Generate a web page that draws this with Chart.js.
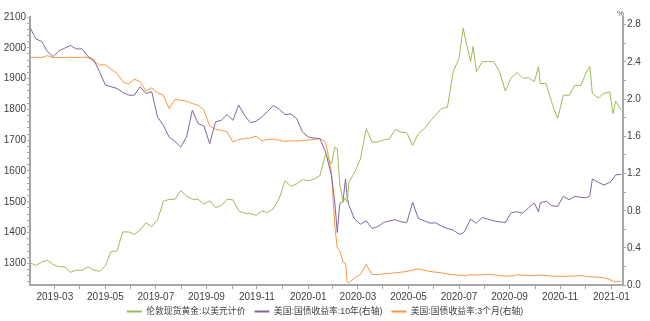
<!DOCTYPE html>
<html>
<head>
<meta charset="utf-8">
<script src="https://cdn.jsdelivr.net/npm/chart.js@4.4.0/dist/chart.umd.min.js"></script>
<style>
  html, body { margin: 0; padding: 0; background: #fff; }
  #wrap { width: 650px; height: 321px; }
</style>
</head>
<body>
<div id="wrap"><canvas id="chart"></canvas></div>
<script>
// weekly samples (plus a few extra days where the lines move fast)
const dates = [
  '2019-03-01','2019-03-08','2019-03-15','2019-03-22','2019-03-29',
  '2019-04-05','2019-04-12','2019-04-19','2019-04-26',
  '2019-05-03','2019-05-10','2019-05-17','2019-05-24','2019-05-31',
  '2019-06-07','2019-06-14','2019-06-21','2019-06-28',
  '2019-07-05','2019-07-12','2019-07-19','2019-07-26',
  '2019-08-02','2019-08-09','2019-08-16','2019-08-23','2019-08-30',
  '2019-09-06','2019-09-13','2019-09-20','2019-09-27',
  '2019-10-04','2019-10-11','2019-10-18','2019-10-25',
  '2019-11-01','2019-11-08','2019-11-15','2019-11-22','2019-11-29',
  '2019-12-06','2019-12-13','2019-12-20','2019-12-27',
  '2020-01-03','2020-01-10','2020-01-17','2020-01-24','2020-01-31',
  '2020-02-07','2020-02-14','2020-02-21','2020-02-28',
  '2020-03-03','2020-03-06','2020-03-09','2020-03-13','2020-03-16','2020-03-18','2020-03-20','2020-03-27',
  '2020-04-03','2020-04-10','2020-04-17','2020-04-24',
  '2020-05-01','2020-05-08','2020-05-15','2020-05-22','2020-05-29',
  '2020-06-05','2020-06-12','2020-06-19','2020-06-26',
  '2020-07-03','2020-07-10','2020-07-17','2020-07-24','2020-07-31',
  '2020-08-05','2020-08-07','2020-08-14','2020-08-17','2020-08-21','2020-08-28',
  '2020-09-04','2020-09-11','2020-09-18','2020-09-25',
  '2020-10-02','2020-10-09','2020-10-16','2020-10-23','2020-10-30',
  '2020-11-04','2020-11-06','2020-11-13','2020-11-20','2020-11-27',
  '2020-12-04','2020-12-11','2020-12-18','2020-12-25',
  '2021-01-01','2021-01-05','2021-01-08','2021-01-15','2021-01-22','2021-01-29',
  '2021-02-02','2021-02-05','2021-02-12'
];

const gold = [
  1302, 1293, 1304, 1310, 1296,
  1289, 1289, 1271, 1278,
  1277, 1289, 1278, 1274, 1293,
  1338, 1340, 1402, 1402,
  1394, 1408, 1432, 1419,
  1441, 1501, 1508, 1508, 1536,
  1519, 1508, 1508, 1492,
  1503, 1481, 1487, 1508,
  1506, 1470, 1463, 1461, 1456,
  1470, 1465, 1478, 1511,
  1568, 1550, 1558, 1572, 1568,
  1574, 1585, 1656, 1623,
  1677, 1672, 1558, 1498, 1514, 1498, 1563, 1596,
  1639, 1737, 1694, 1694,
  1701, 1704, 1735, 1726, 1724,
  1683, 1721, 1737, 1761,
  1783, 1803, 1807, 1922, 1966,
  2064, 2037, 1955, 2004, 1922, 1955,
  1955, 1955, 1922, 1859,
  1903, 1920, 1901, 1903, 1890,
  1939, 1884, 1884, 1822, 1770,
  1846, 1846, 1879, 1877,
  1922, 1939, 1852, 1837, 1852, 1857,
  1786, 1827, 1797
];

const yield10y = [
  2.771, 2.649, 2.620, 2.512, 2.458,
  2.519, 2.548, 2.576, 2.540,
  2.540, 2.458, 2.422, 2.295, 2.151,
  2.133, 2.115, 2.072, 2.043,
  2.043, 2.133, 2.061, 2.079,
  1.809, 1.719, 1.593, 1.546, 1.485,
  1.593, 1.881, 1.737, 1.712,
  1.521, 1.755, 1.773, 1.834,
  1.773, 1.935, 1.827, 1.748, 1.762,
  1.809, 1.870, 1.930, 1.892,
  1.834, 1.841, 1.791, 1.647, 1.593,
  1.582, 1.575, 1.431, 1.178,
  0.890, 0.566, 0.872, 0.908, 1.142, 0.944, 0.861, 0.710,
  0.656, 0.692, 0.609, 0.631,
  0.674, 0.692, 0.703, 0.681, 0.674,
  0.890, 0.717, 0.692, 0.667,
  0.670, 0.634, 0.609, 0.594, 0.548,
  0.560, 0.584, 0.710, 0.690, 0.667, 0.728,
  0.710, 0.692, 0.681, 0.674,
  0.780, 0.789, 0.775, 0.832, 0.883,
  0.789, 0.883, 0.904, 0.854, 0.847,
  0.955, 0.919, 0.955, 0.944,
  0.940, 0.962, 1.142, 1.106, 1.077, 1.106,
  1.142, 1.185, 1.193
];

const yield3m = [
  2.447, 2.450, 2.447, 2.468, 2.447,
  2.447, 2.447, 2.450, 2.447,
  2.450, 2.450, 2.404, 2.368, 2.368,
  2.321, 2.277, 2.187, 2.162,
  2.216, 2.187, 2.086, 2.122,
  2.068, 2.043, 1.899, 1.996, 1.989,
  1.978, 1.953, 1.935, 1.881,
  1.712, 1.676, 1.665, 1.647,
  1.539, 1.567, 1.575, 1.582, 1.603,
  1.553, 1.567, 1.570, 1.557,
  1.546, 1.553, 1.549, 1.557, 1.560,
  1.567, 1.575, 1.539, 1.214,
  0.638, 0.403, 0.367, 0.249, 0.234, 0.036, 0.025, 0.079,
  0.115, 0.223, 0.115, 0.115,
  0.122, 0.126, 0.133, 0.140, 0.148,
  0.162, 0.176, 0.162, 0.148,
  0.140, 0.133, 0.119, 0.112, 0.108,
  0.106, 0.104, 0.112, 0.110, 0.108, 0.112,
  0.115, 0.112, 0.104, 0.097,
  0.100, 0.112, 0.108, 0.104, 0.104,
  0.108, 0.108, 0.104, 0.097, 0.097,
  0.094, 0.097, 0.097, 0.104,
  0.094, 0.090, 0.090, 0.086, 0.079, 0.061,
  0.043, 0.036, 0.043
];

const seriesNames = ['伦敦现货黄金:以美元计价', '美国:国债收益率:10年(右轴)', '美国:国债收益率:3个月(右轴)'];
const seriesColors = ['#9BBB59', '#8064A2', '#F79646'];

const xMin = Date.UTC(2019, 2, 1);
const xMax = Date.UTC(2021, 1, 14);
const axisGray = '#a6a6a6';
const textColor = '#404040';

const pts = arr => arr.map((v, i) => ({ x: Date.parse(dates[i]), y: v }));

// tick marks at each month end, label the odd months
function monthEndTicks(scale) {
    const t = [];
    for (let y = 2019; y <= 2021; y++) for (let m = 0; m < 12; m++) {
        const v = Date.UTC(y, m + 1, 0);
        if (v >= xMin && v <= xMax) t.push({ value: v });
    }
    scale.ticks = t;
}
function stepTicks(from, to, step) {
    return scale => {
        const t = [];
        for (let v = from; v <= to + 1e-9; v += step) t.push({ value: Math.round(v * 1000) / 1000 });
        scale.ticks = t;
    };
}

const unitLabel = {
    id: 'unitLabel',
    afterDraw(chart) {
        const s = chart.scales.yR, c = chart.ctx;
        c.save();
        c.font = '8px "Liberation Sans", sans-serif';
        c.fillStyle = '#555';
        c.textAlign = 'right';
        c.textBaseline = 'bottom';
        c.fillText('%', s.left + 1, chart.chartArea.top + 1);
        c.restore();
    }
};

// pull the legend row up a little, closer to the tick labels
const legendNudge = {
    id: 'legendNudge',
    afterLayout(chart) {
        chart.legend.top -= 5;
        chart.legend.bottom -= 5;
    }
};

Chart.defaults.font.family = '"Liberation Sans", "Noto Sans CJK SC", sans-serif';
Chart.defaults.color = textColor;

new Chart(document.getElementById('chart'), {
    type: 'line',
    data: {
        datasets: [
            { label: seriesNames[0], data: pts(gold), yAxisID: 'yL', borderColor: seriesColors[0], backgroundColor: seriesColors[0], borderWidth: 1, pointRadius: 0, tension: 0 },
            { label: seriesNames[1], data: pts(yield10y), yAxisID: 'yR', borderColor: seriesColors[1], backgroundColor: seriesColors[1], borderWidth: 1, pointRadius: 0, tension: 0 },
            { label: seriesNames[2], data: pts(yield3m), yAxisID: 'yR', borderColor: seriesColors[2], backgroundColor: seriesColors[2], borderWidth: 1, pointRadius: 0, tension: 0 }
        ]
    },
    options: {
        responsive: true, maintainAspectRatio: false, animation: false,
        layout: { padding: { top: 17, left: 0, right: 0, bottom: -10 } },
        plugins: {
            tooltip: { enabled: false },
            legend: {
                position: 'bottom',
                labels: {
                    usePointStyle: true, pointStyle: 'line', pointStyleWidth: 15,
                    font: { size: 8.8 }, color: textColor, padding: 9,
                    generateLabels: chart => Chart.defaults.plugins.legend.labels.generateLabels(chart)
                        .map(l => Object.assign(l, { lineWidth: 2 }))
                }
            }
        },
        scales: {
            x: {
                type: 'linear', min: xMin, max: xMax,
                afterBuildTicks: monthEndTicks,
                afterFit: s => { s.height = 18; },
                border: { display: true, color: axisGray, width: 2 },
                grid: { drawOnChartArea: false, drawTicks: true, tickLength: 4, tickColor: axisGray },
                ticks: {
                    autoSkip: false, maxRotation: 0, padding: 2, font: { size: 10 },
                    callback: v => {
                        const d = new Date(v), m = d.getUTCMonth() + 1;
                        return m % 2 === 1 ? d.getUTCFullYear() + '-' + String(m).padStart(2, '0') : '';
                    }
                }
            },
            yL: {
                position: 'left', min: 1229, max: 2100,
                afterBuildTicks: stepTicks(1240, 2100, 20),
                afterFit: s => { s.width = 30; },
                border: { display: true, color: axisGray, width: 2 },
                grid: { drawOnChartArea: false, drawTicks: true, tickLength: 3, tickColor: axisGray },
                ticks: { autoSkip: false, padding: 1, font: { size: 10 }, callback: v => (v % 100 === 0 ? String(v) : '') }
            },
            yR: {
                position: 'right', min: 0, max: 2.883,
                afterBuildTicks: stepTicks(0, 2.8, 0.2),
                afterFit: s => { s.width = 27; },
                border: { display: true, color: axisGray, width: 2 },
                grid: { drawOnChartArea: false, drawTicks: true, tickLength: 3, tickColor: axisGray },
                ticks: { autoSkip: false, padding: 1, font: { size: 10 }, callback: v => (Math.round(v * 10) % 4 === 0 ? v.toFixed(1) : '') }
            }
        }
    },
    plugins: [unitLabel, legendNudge]
});
</script>
</body>
</html>
